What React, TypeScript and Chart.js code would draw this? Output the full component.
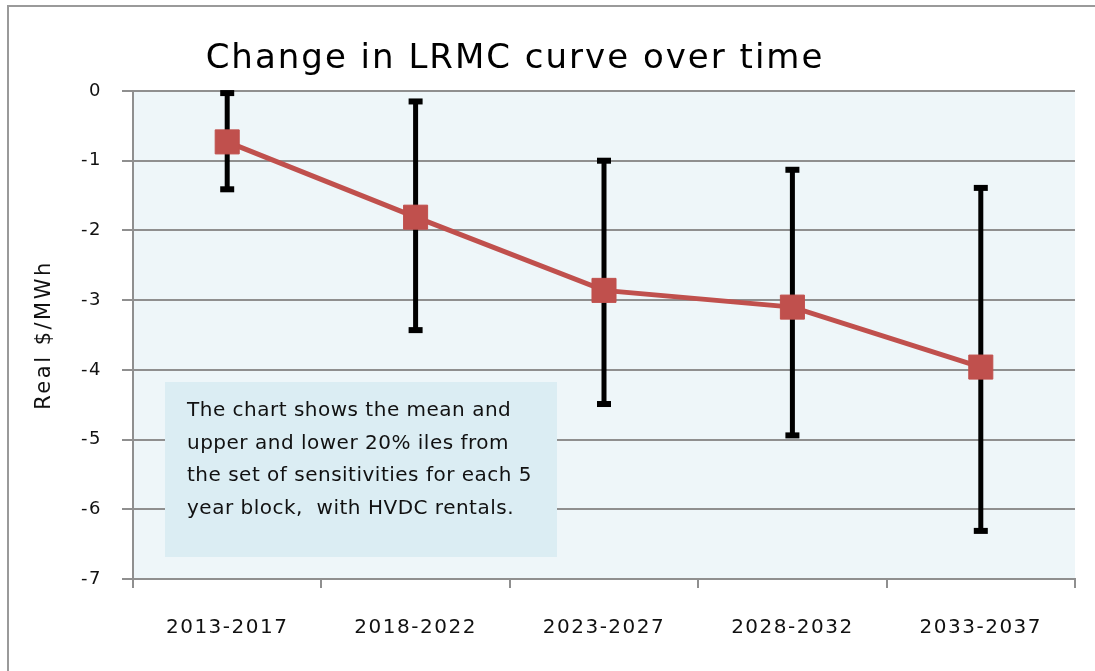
import React, { useEffect, useRef } from 'react';
import { Chart, registerables } from 'chart.js';

Chart.register(...registerables);

const categories = ['2013-2017', '2018-2022', '2023-2027', '2028-2032', '2033-2037'];
const meanValues = [-0.73, -1.81, -2.86, -3.1, -3.96];
const upper20 = [-0.03, -0.15, -1.0, -1.13, -1.39];
const lower20 = [-1.41, -3.43, -4.49, -4.94, -6.31];
const yMin = -7;
const yMax = 0;
const yStep = 1;

const titleText = 'Change in LRMC curve over time';
const yAxisTitle = 'Real $/MWh';
const noteLines = [
  'The chart shows the mean and',
  'upper and lower 20% iles from',
  'the set of sensitivities for each 5',
  'year block,  with HVDC rentals.',
];

const FONT = '"DejaVu Sans", sans-serif';
const PLOT_BG = '#EEF6F9';
const NOTE_BG = '#DBEDF3';
const GRID = '#8f8f8f';
const RED = '#C0504D';

const decorPlugin = {
  id: 'decor',
  beforeDraw(chart: any) {
    const ctx = chart.ctx;
    const { left, top, right, bottom } = chart.chartArea;
    ctx.save();
    ctx.fillStyle = '#ffffff';
    ctx.fillRect(0, 0, chart.width, chart.height);
    ctx.fillStyle = PLOT_BG;
    ctx.fillRect(left, top, right - left, bottom - top);
    ctx.strokeStyle = '#9a9a9a';
    ctx.lineWidth = 2;
    ctx.beginPath();
    ctx.moveTo(8, chart.height);
    ctx.lineTo(8, 6);
    ctx.lineTo(chart.width, 6);
    ctx.stroke();
    // title
    ctx.letterSpacing = '2px';
    ctx.font = `34px ${FONT}`;
    ctx.fillStyle = '#000';
    ctx.textAlign = 'center';
    ctx.textBaseline = 'alphabetic';
    ctx.fillText(titleText, 515, 68);
    // y axis title
    ctx.letterSpacing = '2.5px';
    ctx.font = `21px ${FONT}`;
    ctx.fillStyle = '#111';
    ctx.translate(45, (top + bottom) / 2);
    ctx.rotate(-Math.PI / 2);
    ctx.textBaseline = 'middle';
    ctx.fillText(yAxisTitle, 0, 0);
    ctx.restore();
    ctx.letterSpacing = '1.5px';
  },
  beforeDatasetsDraw(chart: any) {
    const ctx = chart.ctx;
    const xs = chart.scales.x;
    const ys = chart.scales.y;
    ctx.save();
    // note box
    const bx = 165, by = 382, bw = 392, bh = 175;
    ctx.fillStyle = NOTE_BG;
    ctx.fillRect(bx, by, bw, bh);
    ctx.letterSpacing = '0.5px';
    ctx.font = `20px ${FONT}`;
    ctx.fillStyle = '#111';
    ctx.textAlign = 'left';
    ctx.textBaseline = 'alphabetic';
    noteLines.forEach((line, i) => {
      ctx.fillText(line, bx + 22, by + 34 + i * 32.7);
    });
    // error bars
    ctx.strokeStyle = '#000';
    ctx.fillStyle = '#000';
    ctx.lineWidth = 5;
    categories.forEach((_, i) => {
      const x = xs.getPixelForValue(i);
      const y1 = ys.getPixelForValue(upper20[i]);
      const y2 = ys.getPixelForValue(lower20[i]);
      ctx.beginPath();
      ctx.moveTo(x, y1);
      ctx.lineTo(x, y2);
      ctx.stroke();
      ctx.fillRect(x - 7, y1 - 3, 14, 6);
      ctx.fillRect(x - 7, y2 - 3, 14, 6);
    });
    ctx.restore();
  },
};

export default function App() {
  const canvasRef = useRef<HTMLCanvasElement | null>(null);

  useEffect(() => {
    if (!canvasRef.current) return;
    const chart = new Chart(canvasRef.current, {
      type: 'line',
      data: {
        labels: categories,
        datasets: [
          {
            label: 'Mean',
            data: meanValues,
            borderColor: RED,
            backgroundColor: RED,
            borderWidth: 5,
            tension: 0,
            pointStyle: 'rect',
            pointRadius: 17,
            pointHoverRadius: 17,
            pointBackgroundColor: RED,
            pointBorderColor: RED,
            pointBorderWidth: 1,
          },
        ],
      },
      options: {
        animation: false,
        responsive: true,
        maintainAspectRatio: false,
        layout: { padding: { top: 91, right: 20, left: 0, bottom: 0 } },
        plugins: {
          legend: { display: false },
          title: { display: false },
          tooltip: { enabled: false },
        },
        scales: {
          x: {
            type: 'category',
            offset: true,
            grid: {
              offset: true,
              drawOnChartArea: false,
              drawTicks: true,
              tickLength: 9,
              color: GRID,
              lineWidth: 2,
            },
            border: { display: true, color: GRID, width: 2 },
            ticks: {
              color: '#111',
              font: { family: FONT, size: 20 },
              padding: 28,
              maxRotation: 0,
              autoSkip: false,
            },
            afterFit(scale: any) {
              scale.height = 92;
            },
          },
          y: {
            min: yMin,
            max: yMax,
            grid: {
              color: GRID,
              lineWidth: 2,
              drawTicks: true,
              tickLength: 11,
            },
            border: { display: true, color: GRID, width: 2 },
            ticks: {
              stepSize: yStep,
              color: '#111',
              font: { family: FONT, size: 18 },
              padding: 20,
            },
            afterFit(scale: any) {
              scale.width = 133;
            },
          },
        },
      },
      plugins: [decorPlugin],
    });
    return () => chart.destroy();
  }, []);

  return (
    <div style={{ position: 'fixed', left: 0, top: 0, width: 1095, height: 671 }}>
      <canvas ref={canvasRef} />
    </div>
  );
}
